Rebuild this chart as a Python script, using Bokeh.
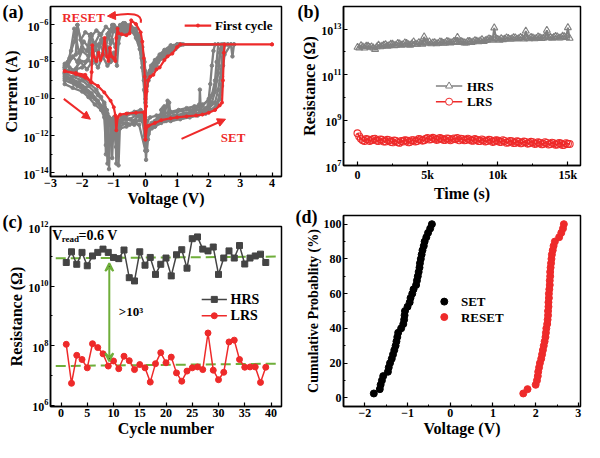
from bokeh.plotting import figure
from bokeh.layouts import row, column
from bokeh.models import FixedTicker, Label, Arrow, NormalHead, VeeHead, Range1d
from bokeh.embed import file_html
from bokeh.resources import INLINE

FONT = "Liberation Serif"
RED = "#ee2a2a"
GRAY = "#808080"
DGRAY = "#444444"
GREEN = "#6fae3a"

# ---------------- (a) I-V curves: voltage (V) and log10 current (A) ----------------
g1_v = [0.0,0.05,0.15,0.3,0.5,0.6,0.65,0.9,1.2,1.5,1.7,1.75,1.9,2.0,2.1,2.2,2.25,2.3,2.8,
        1.0,0.8,0.5,0.3,0.15,0.05,0.0,
        -0.05,-0.1,-0.2,-0.35,-0.5,-0.6,-0.7,-0.8,-0.9,-1.0,-1.1,-1.2,-1.3,-1.4,-1.5,-1.6,-1.7,-1.8,-2.0,-2.2,-2.5,
        -2.5,-2.2,-2.0,-1.8,-1.6,-1.4,-1.25,-1.2,-1.15,-1.0,-0.9,-0.7,-0.5,-0.3,-0.1,0.0]
g1_logi = [-12.5,-11.6,-11.4,-11.2,-11.0,-10.4,-11.0,-10.9,-10.8,-10.7,-10.3,-10.7,-10.5,-10.3,-9.8,-9.0,-8.0,-7.05,-7.05,
           -7.05,-7.2,-7.6,-8.0,-8.6,-9.3,-10.0,
           -8.5,-7.6,-6.9,-6.4,-6.2,-6.0,-6.3,-6.1,-6.6,-6.2,-7.0,-6.5,-7.3,-6.8,-7.6,-7.2,-8.1,-7.9,-8.3,-8.4,-8.6,
           -8.9,-9.1,-9.3,-9.6,-10.0,-10.4,-10.9,-13.5,-11.0,-11.2,-11.4,-11.0,-11.1,-10.9,-11.0,-12.5]

g2_v = [0.0,0.05,0.1,0.2,0.4,0.7,0.75,0.8,1.0,1.3,1.6,1.9,2.1,2.2,2.3,2.35,2.4,2.7,2.75,2.8,
        1.2,0.9,0.6,0.4,0.2,0.1,0.03,0.0,
        -0.05,-0.15,-0.3,-0.45,-0.55,-0.65,-0.8,-0.95,-1.05,-1.15,-1.25,-1.35,-1.5,-1.65,-1.75,-1.85,-2.0,-2.15,-2.2,-2.35,-2.55,
        -2.55,-2.3,-2.0,-1.8,-1.5,-1.3,-1.2,-1.1,-1.05,-1.0,-0.9,-0.85,-0.8,-0.6,-0.4,-0.2,-0.05,0.0]
g2_logi = [-12.0,-12.8,-11.8,-11.5,-11.3,-11.0,-10.2,-11.0,-10.9,-10.8,-10.6,-10.6,-10.2,-9.6,-8.6,-7.5,-7.05,-7.05,-7.7,-7.05,
           -7.05,-7.3,-7.7,-8.0,-8.3,-8.8,-9.5,-9.0,
           -7.9,-7.0,-6.5,-6.2,-6.4,-5.9,-6.0,-6.3,-6.0,-6.4,-7.2,-6.9,-7.1,-7.0,-6.6,-7.4,-7.2,-6.0,-7.6,-7.8,-8.1,
           -8.6,-8.8,-9.0,-9.3,-9.8,-10.2,-10.8,-11.2,-13.2,-11.0,-11.3,-13.6,-11.2,-11.1,-11.2,-10.9,-11.3,-12.0]

g3_v = [0.0,0.08,0.12,0.3,0.5,0.55,0.6,0.9,1.2,1.4,1.7,1.72,1.75,2.0,2.2,2.3,2.4,2.45,2.6,
        1.1,0.9,0.7,0.5,0.35,0.2,0.1,0.0,
        -0.05,-0.12,-0.25,-0.4,-0.5,-0.6,-0.75,-0.85,-0.9,-1.0,-1.1,-1.2,-1.3,-1.45,-1.55,-1.7,-1.9,-2.1,-2.2,-2.4,-2.55,
        -2.55,-2.3,-2.0,-1.8,-1.6,-1.4,-1.3,-1.25,-1.2,-1.15,-1.1,-0.95,-0.92,-0.88,-0.7,-0.5,-0.3,-0.1,0.0]
g3_logi = [-11.8,-12.2,-11.6,-11.5,-11.3,-10.5,-11.2,-11.1,-11.0,-10.9,-10.8,-9.5,-10.6,-10.5,-10.2,-9.5,-8.4,-7.05,-7.05,
           -7.05,-7.15,-7.5,-7.7,-8.2,-8.5,-9.0,-9.6,
           -9.0,-7.8,-6.8,-6.3,-6.0,-6.5,-6.3,-7.0,-8.2,-7.5,-8.0,-7.2,-7.6,-7.0,-8.0,-7.5,-8.0,-7.9,-8.5,-8.3,-8.9,
           -9.2,-9.4,-9.6,-9.9,-10.3,-10.6,-11.0,-12.5,-11.1,-13.8,-11.3,-11.5,-13.5,-11.4,-11.3,-11.4,-11.2,-11.2,-11.8]

g4_v = [0.0,0.1,0.2,0.4,0.6,0.7,0.75,1.0,1.4,1.8,2.0,2.05,2.1,2.15,2.2,2.3,
        1.05,0.85,0.65,0.45,0.25,0.12,0.05,0.0,
        -0.03,-0.1,-0.2,-0.3,-0.45,-0.6,-0.7,-0.85,-1.0,-1.1,-1.25,-1.4,-1.55,-1.7,-1.9,-2.05,-2.15,-2.25,-2.35,-2.45,-2.55,
        -2.55,-2.35,-2.1,-1.9,-1.7,-1.5,-1.35,-1.25,-1.15,-1.05,-0.95,-0.9,-0.85,-0.6,-0.4,-0.2,-0.05,0.02,0.05]
g4_logi = [-12.2,-11.9,-11.3,-11.0,-10.9,-10.1,-10.8,-10.7,-10.6,-10.4,-10.0,-9.2,-8.2,-7.4,-7.05,-7.05,
           -7.05,-7.25,-7.4,-7.8,-8.1,-8.6,-9.0,-8.5,
           -8.0,-7.2,-6.6,-6.2,-6.1,-6.1,-5.9,-6.2,-6.0,-6.3,-6.1,-6.5,-6.3,-6.6,-6.4,-6.8,-6.0,-6.9,-7.4,-8.0,-8.3,
           -8.7,-8.9,-9.1,-9.4,-9.7,-10.1,-10.5,-10.7,-11.0,-11.1,-11.2,-12.0,-11.2,-10.9,-10.8,-10.7,-10.9,-13.3,-12.0]

g5_v = [0.0,0.1,0.25,0.45,0.65,0.85,1.1,1.35,1.6,1.85,2.05,2.25,2.35,2.42,2.45,2.5,
        1.15,0.95,0.75,0.55,0.4,0.25,0.12,0.04,0.0,
        -0.04,-0.1,-0.18,-0.3,-0.42,-0.55,-0.7,-0.8,-0.88,-0.95,-1.05,-1.2,-1.35,-1.5,-1.65,-1.85,-2.05,-2.3,-2.55,
        -2.55,-2.25,-1.95,-1.65,-1.45,-1.3,-1.2,-1.1,-1.0,-0.95,-0.8,-0.6,-0.35,-0.15,0.0]
g5_logi = [-11.5,-11.7,-11.4,-11.3,-11.2,-11.1,-11.0,-10.85,-10.8,-10.7,-10.6,-10.4,-10.0,-9.3,-8.2,-7.05,
           -7.05,-7.3,-7.5,-7.8,-8.0,-8.4,-8.7,-9.3,-11.0,
           -9.5,-8.3,-7.3,-6.7,-6.3,-6.1,-6.2,-6.05,-6.8,-7.6,-7.9,-8.2,-7.7,-8.3,-7.9,-8.4,-8.0,-8.5,-8.6,
           -9.0,-9.2,-9.4,-9.9,-10.3,-10.6,-11.0,-11.4,-11.3,-11.6,-11.5,-11.3,-11.4,-11.0,-11.5]

g6_v = [0.0,0.06,0.15,0.35,0.55,0.8,1.05,1.3,1.55,1.8,2.0,2.15,2.25,2.32,2.38,2.6,
        1.0,0.8,0.6,0.45,0.3,0.18,0.08,0.0,
        -0.04,-0.08,-0.15,-0.25,-0.4,-0.55,-0.65,-0.75,-0.9,-1.0,-1.15,-1.3,-1.45,-1.6,-1.75,-1.95,-2.1,-2.25,-2.4,-2.55,
        -2.55,-2.4,-2.2,-1.95,-1.75,-1.55,-1.4,-1.3,-1.22,-1.15,-1.05,-0.97,-0.9,-0.75,-0.55,-0.35,-0.15,-0.05,0.0]
g6_logi = [-11.9,-11.2,-11.0,-10.9,-10.8,-10.7,-10.6,-10.5,-10.4,-10.3,-10.1,-9.7,-9.0,-8.2,-7.3,-7.05,
           -7.05,-7.1,-7.35,-7.6,-7.9,-8.2,-8.7,-9.2,
           -8.7,-7.7,-7.1,-6.6,-6.35,-6.2,-6.5,-6.15,-6.4,-6.1,-6.6,-6.9,-6.5,-7.0,-7.3,-6.9,-7.5,-6.2,-7.8,-8.2,
           -8.4,-8.5,-8.7,-8.9,-9.2,-9.5,-9.9,-10.3,-10.6,-11.0,-11.2,-11.5,-11.3,-11.0,-10.8,-10.7,-10.6,-10.9,-11.9]

g7_v = [0.0,0.04,0.1,0.2,0.3,0.45,0.5,0.55,0.8,1.1,1.4,1.65,1.9,2.1,2.25,2.35,2.42,2.5,2.7,
        1.1,0.95,0.7,0.5,0.3,0.15,0.06,0.0,
        -0.02,-0.08,-0.2,-0.35,-0.5,-0.62,-0.72,-0.82,-0.95,-1.05,-1.18,-1.28,-1.42,-1.58,-1.72,-1.8,-2.0,-2.15,-2.3,-2.45,-2.55,
        -2.55,-2.35,-2.15,-1.9,-1.7,-1.5,-1.35,-1.28,-1.25,-1.18,-1.1,-1.0,-0.93,-0.9,-0.8,-0.6,-0.4,-0.2,0.0]
g7_logi = [-12.8,-11.9,-11.7,-11.6,-11.5,-11.2,-10.6,-11.2,-11.2,-11.1,-11.0,-10.9,-10.8,-10.6,-10.3,-9.8,-8.8,-7.6,-7.05,
           -7.05,-7.2,-7.45,-7.75,-8.05,-8.45,-9.0,-10.2,
           -9.6,-8.1,-7.0,-6.45,-6.1,-6.3,-5.95,-6.5,-7.2,-6.8,-7.5,-7.0,-7.8,-7.2,-6.5,-7.7,-7.4,-8.0,-7.7,-8.2,-8.3,
           -8.8,-9.0,-9.3,-9.6,-9.9,-10.2,-10.5,-11.0,-13.0,-11.1,-11.4,-11.6,-12.6,-11.5,-11.6,-11.5,-11.3,-11.4,-12.8]

first_v = [0.0,0.05,0.1,0.3,0.5,0.8,1.0,1.3,1.6,1.8,2.0,2.2,2.35,2.42,2.45,2.48,2.5,4.0,
           4.0,1.1,1.0,0.85,0.7,0.6,0.45,0.35,0.25,0.15,0.08,0.04,0.02,0.0,
           -0.02,-0.05,-0.1,-0.15,-0.3,-0.45,-0.5,-0.6,-0.75,-0.85,-0.88,-0.92,-0.95,-1.0,-1.07,-1.12,-1.17,-1.22,-1.29,-1.35,
           -1.42,-1.48,-1.55,-1.63,-1.68,-1.7,-1.72,-1.9,-2.2,-2.55,
           -2.55,-2.2,-1.9,-1.7,-1.5,-1.3,-1.1,-1.0,-0.95,-0.92,-0.88,-0.8,-0.6,-0.3,-0.05,0.0]
first_logi = [-12.2,-11.5,-11.45,-11.3,-11.15,-11.05,-11.0,-10.95,-10.9,-10.85,-10.75,-10.6,-10.35,-10.2,-9.0,-7.5,-7.05,-7.05,
              -7.05,-7.05,-7.2,-7.55,-7.7,-7.9,-8.3,-8.4,-8.7,-8.8,-9.0,-9.6,-10.4,-11.6,
              -8.8,-7.8,-6.9,-6.4,-5.95,-5.75,-6.45,-6.55,-6.5,-6.45,-6.2,-6.7,-7.95,-7.8,-7.7,-7.25,-7.95,-7.7,-6.7,-7.6,
              -7.9,-7.5,-7.95,-7.7,-7.1,-8.55,-9.1,-8.7,-8.6,-8.5,
              -8.5,-8.65,-8.85,-9.1,-9.3,-9.65,-10.1,-10.45,-10.9,-11.7,-11.0,-10.85,-10.8,-10.75,-10.72,-12.2]

# ---------------- (b) retention ----------------
time_s = [0,125,250,375,500,625,750,875,
          1000,1125,1250,1375,1500,1625,1750,1875,
          2000,2125,2250,2375,2500,2625,2750,2875,
          3000,3125,3250,3375,3500,3625,3750,3875,
          4000,4125,4250,4375,4500,4625,4750,4875,
          5000,5125,5250,5375,5500,5625,5750,5875,
          6000,6125,6250,6375,6500,6625,6750,6875,
          7000,7125,7250,7375,7500,7625,7750,7875,
          8000,8125,8250,8375,8500,8625,8750,8875,
          9000,9125,9250,9375,9500,9625,9750,9875,
          10000,10125,10250,10375,10500,10625,10750,10875,
          11000,11125,11250,11375,11500,11625,11750,11875,
          12000,12125,12250,12375,12500,12625,12750,12875,
          13000,13125,13250,13375,13500,13625,13750,13875,
          14000,14125,14250,14375,14500,14625,14750,14875,
          15000,15125]
hrs_e12 = [1.6,1.5,1.9,1.7,1.5,1.8,1.8,1.6,
           1.7,1.5,1.3,1.7,2.0,1.7,1.8,2.0,
           2.1,1.8,1.9,2.2,2.2,1.9,2.0,2.4,
           2.3,2.0,2.1,2.5,2.4,2.1,2.0,2.3,
           2.8,2.2,2.2,2.6,2.4,2.2,4.6,2.5,
           2.5,2.8,2.3,2.5,2.6,2.3,2.4,2.8,
           2.7,2.4,2.5,2.9,2.8,2.5,2.6,2.9,
           3.0,4.4,2.6,2.9,2.7,2.5,2.5,2.9,
           2.9,2.6,2.8,3.2,3.0,2.8,3.1,3.5,
           2.9,3.2,3.4,3.8,3.6,3.3,11.5,3.9,
           3.6,3.3,3.9,3.5,3.7,4.2,4.0,3.6,
           3.8,4.3,4.2,3.7,3.9,4.4,4.1,3.7,
           8.3,4.0,3.8,4.4,4.2,3.8,4.0,4.6,
           4.3,3.9,4.1,4.7,9.0,4.2,4.5,4.0,
           4.4,4.9,4.6,4.1,4.2,5.0,4.8,4.3,
           11.8,4.0]
lrs_e8 = [2.6,1.9,1.5,1.3,1.2,1.45,1.4,1.2,
          1.3,1.45,1.5,1.25,1.2,1.4,1.35,1.15,
          1.15,1.35,1.3,1.1,1.05,1.25,1.2,1.05,
          1.0,1.2,1.15,1.3,1.25,1.05,1.1,1.3,
          1.3,1.15,1.2,1.45,1.4,1.25,1.3,1.5,
          1.6,1.4,1.45,1.65,1.55,1.35,1.4,1.6,
          1.5,1.35,1.35,1.55,1.5,1.3,1.4,1.55,
          1.45,1.6,1.3,1.5,1.45,1.3,1.35,1.5,
          1.4,1.25,1.25,1.45,1.35,1.2,1.2,1.4,
          1.3,1.15,1.2,1.35,1.3,1.1,1.15,1.3,
          1.25,1.1,1.1,1.3,1.2,1.0,1.05,1.2,
          1.15,0.98,1.0,1.15,1.1,0.95,1.0,1.12,
          1.08,0.92,0.95,1.1,1.05,0.9,0.92,1.05,
          1.0,0.86,0.9,1.05,0.98,0.84,0.88,1.0,
          0.95,0.82,0.85,0.98,0.92,0.8,0.82,0.95,
          0.9,0.88]

# ---------------- (c) endurance (log10 resistance) ----------------
cycles = [1,2,3,4,5,6,7,8,9,10,11,12,13,14,15,16,17,18,19,20,21,22,23,24,25,26,27,28,29,30,31,32,33,34,35,36,37,38,39]
hrs_log = [10.79,11.15,10.73,11.13,10.68,11.01,11.13,11.24,11.13,10.96,10.92,11.21,10.28,10.17,11.15,10.70,10.96,10.39,
           10.73,10.94,10.34,11.05,11.22,10.60,11.59,11.65,11.24,11.18,11.31,10.39,10.94,11.18,10.94,11.36,10.74,10.94,
           11.01,11.07,10.79]
lrs_log = [8.04,6.73,7.67,7.53,7.25,8.06,7.93,7.72,7.31,7.48,7.22,7.64,7.49,7.19,7.36,7.25,6.77,7.39,7.76,7.42,7.61,
           7.08,6.80,7.14,7.25,7.28,7.19,8.42,7.17,6.85,7.10,8.12,8.18,7.53,7.27,7.28,7.28,6.76,7.27]
hrs_fit_x = [-1.0, 41.5]
hrs_fit_log = [10.93, 10.99]
lrs_fit_x = [-1.0, 41.5]
lrs_fit_log = [7.31, 7.39]

# ---------------- (d) cumulative probability ----------------
prob = [2.5,5.0,7.5,10.0,12.5,15.0,17.5,20.0,22.5,25.0,27.5,30.0,32.5,35.0,37.5,40.0,42.5,45.0,47.5,50.0,
        52.5,55.0,57.5,60.0,62.5,65.0,67.5,70.0,72.5,75.0,77.5,80.0,82.5,85.0,87.5,90.0,92.5,95.0,97.5,100.0]
set_v = [-1.79,-1.65,-1.63,-1.60,-1.57,-1.46,-1.44,-1.41,-1.37,-1.34,-1.31,-1.28,-1.26,-1.24,-1.22,-1.15,-1.10,-1.08,-1.07,-1.06,
         -1.00,-0.95,-0.93,-0.89,-0.86,-0.80,-0.78,-0.76,-0.74,-0.72,-0.71,-0.69,-0.67,-0.65,-0.62,-0.60,-0.56,-0.52,-0.47,-0.43]
reset_v = [1.71,1.81,2.00,2.03,2.05,2.06,2.08,2.10,2.13,2.15,2.17,2.19,2.21,2.23,2.24,2.25,2.27,2.28,2.29,2.29,
           2.30,2.30,2.31,2.31,2.32,2.33,2.33,2.34,2.34,2.35,2.36,2.37,2.38,2.40,2.42,2.45,2.55,2.60,2.64,2.66]


def p10(vals):
    return [10 ** v for v in vals]


def style(p, xlabel, ylabel):
    p.grid.visible = False
    p.outline_line_color = "black"
    p.outline_line_width = 1.5
    p.background_fill_color = "white"
    p.border_fill_color = "white"
    for ax in [p.xaxis[0], p.yaxis[0]]:
        ax.axis_line_color = "black"
        ax.axis_line_width = 1.5
        ax.major_tick_in = 4
        ax.major_tick_out = 0
        ax.minor_tick_in = 2
        ax.minor_tick_out = 0
        ax.major_tick_line_color = "black"
        ax.minor_tick_line_color = "black"
        ax.major_tick_line_width = 1.2
        ax.minor_tick_line_width = 1
        ax.major_label_text_font = FONT
        ax.major_label_text_font_style = "bold"
        ax.major_label_text_font_size = "12px"
        ax.major_label_text_color = "black"
        ax.major_label_standoff = 2
        ax.axis_label_text_font = FONT
        ax.axis_label_text_font_style = "bold"
        ax.axis_label_text_font_size = "16px"
        ax.axis_label_text_color = "black"
        ax.axis_label_standoff = 0
    p.xaxis[0].axis_label = xlabel
    p.yaxis[0].axis_label = ylabel


def panel_title(p, text, offset, standoff):
    p.title.text = text
    p.title.align = "left"
    p.title.vertical_align = "bottom"
    p.title.offset = offset
    p.title.standoff = standoff
    p.title.text_font = FONT
    p.title.text_font_style = "bold"
    p.title.text_font_size = "18px"
    p.title.text_color = "black"


def txt(p, x, y, text, size="13px", color="black", align="left", baseline="middle"):
    p.add_layout(Label(x=x, y=y, text=text, text_font=FONT,
                       text_font_style="bold", text_font_size=size, text_color=color,
                       text_align=align, text_baseline=baseline))


# ================= panel (a) =================
pa = figure(width=289, height=212, x_range=Range1d(-3, 4.3), y_range=Range1d(10 ** -14.2, 1e-5),
            y_axis_type="log", output_backend="svg", toolbar_location=None,
            min_border_left=46, min_border_right=8, min_border_top=6, min_border_bottom=36)
style(pa, "Voltage (V)", "Current (A)")
panel_title(pa, "(a)", -48, -30)
pa.xaxis[0].ticker = FixedTicker(ticks=[-3, -2, -1, 0, 1, 2, 3, 4],
                                 minor_ticks=[-2.5, -1.5, -0.5, 0.5, 1.5, 2.5, 3.5])
pa.yaxis[0].ticker = FixedTicker(ticks=[1e-14, 1e-12, 1e-10, 1e-8, 1e-6],
                                 minor_ticks=[1e-13, 1e-11, 1e-9, 1e-7, 1e-5])
for gv, gi in [(g1_v, g1_logi), (g2_v, g2_logi), (g3_v, g3_logi), (g4_v, g4_logi), (g5_v, g5_logi),
               (g6_v, g6_logi), (g7_v, g7_logi)]:
    pa.line(gv, p10(gi), line_color=GRAY, line_width=2.3)
    pa.scatter(gv, p10(gi), size=3.5, color=GRAY)
pa.line(first_v, p10(first_logi), line_color=RED, line_width=2.2)
pa.scatter(first_v, p10(first_logi), size=3, color=RED)
# legend
pa.line([1.24, 2.08], [10 ** -6.03, 10 ** -6.03], line_color=RED, line_width=2.2)
pa.scatter([1.66], [10 ** -6.03], size=3, color=RED)
txt(pa, 2.2, 10 ** -6.03, "First cycle")
# arrows and annotations
pa.bezier(x0=[-0.15], y0=[10 ** -5.88], x1=[-1.05], y1=[10 ** -5.5], cx0=[-0.08], cy0=[10 ** -5.4],
          cx1=[-0.45], cy1=[10 ** -5.3], line_color=RED, line_width=2)
pa.add_layout(Arrow(x_start=-0.95, y_start=10 ** -5.49, x_end=-1.2, y_end=10 ** -5.52, line_color=RED,
                    line_width=2, end=NormalHead(size=8, fill_color=RED, line_color=RED)))
pa.add_layout(Arrow(x_start=-2.58, y_start=10 ** -10.0, x_end=-1.74, y_end=10 ** -11.1, line_color=RED,
                    line_width=2, end=NormalHead(size=8, fill_color=RED, line_color=RED)))
pa.add_layout(Arrow(x_start=1.14, y_start=10 ** -12.16, x_end=2.53, y_end=10 ** -11.1, line_color=RED,
                    line_width=2, end=NormalHead(size=8, fill_color=RED, line_color=RED)))
txt(pa, -2.63, 10 ** -5.6, "RESET", color=RED)
txt(pa, 2.38, 10 ** -12.07, "SET", color=RED)

# ================= panel (b) =================
pb = figure(width=295, height=204, x_range=Range1d(-1000, 15900), y_range=Range1d(1e7, 1e14),
            y_axis_type="log", output_backend="svg", toolbar_location=None,
            min_border_left=54, min_border_right=4, min_border_top=6, min_border_bottom=36)
style(pb, "Time (s)", "Resistance (Ω)")
panel_title(pb, "(b)", -46, -30)
pb.xaxis[0].ticker = FixedTicker(ticks=[0, 5000, 10000, 15000], minor_ticks=[2500, 7500, 12500])
pb.xaxis[0].major_label_overrides = {0: "0", 5000: "5k", 10000: "10k", 15000: "15k"}
pb.yaxis[0].ticker = FixedTicker(ticks=[1e7, 1e9, 1e11, 1e13], minor_ticks=[1e8, 1e10, 1e12])
hrs_b = [v * 1e12 for v in hrs_e12]
lrs_b = [v * 1e8 for v in lrs_e8]
pb.line(time_s, hrs_b, line_color=GRAY, line_width=2)
pb.scatter(time_s, hrs_b, marker="triangle", size=7, line_color=GRAY, fill_alpha=0, line_width=1.1)
pb.line(time_s, lrs_b, line_color=RED, line_width=2)
pb.scatter(time_s, lrs_b, marker="circle", size=7, line_color=RED, fill_alpha=0, line_width=1.1)
pb.line([5590, 7470], [10 ** 10.5, 10 ** 10.5], line_color=GRAY, line_width=1.5)
pb.scatter([6530], [10 ** 10.5], marker="triangle", size=7, line_color=GRAY, fill_color="white")
pb.line([5590, 7470], [10 ** 9.81, 10 ** 9.81], line_color=RED, line_width=1.5)
pb.scatter([6530], [10 ** 9.81], marker="circle", size=7, line_color=RED, fill_color="white")
txt(pb, 7800, 10 ** 10.5, "HRS")
txt(pb, 7800, 10 ** 9.81, "LRS")

# ================= panel (c) =================
pc = figure(width=289, height=230, x_range=Range1d(-2, 42), y_range=Range1d(10 ** 5.95, 1e12),
            y_axis_type="log", output_backend="svg", toolbar_location=None,
            min_border_left=46, min_border_right=8, min_border_top=14, min_border_bottom=36)
style(pc, "Cycle number", "Resistance (Ω)")
panel_title(pc, "(c)", -48, -10)
pc.xaxis[0].ticker = FixedTicker(ticks=[0, 5, 10, 15, 20, 25, 30, 35, 40])
pc.yaxis[0].ticker = FixedTicker(ticks=[1e6, 1e8, 1e10, 1e12], minor_ticks=[1e7, 1e9, 1e11])
pc.line(hrs_fit_x, p10(hrs_fit_log), line_color=GREEN, line_width=2, line_dash="10 5")
pc.line(lrs_fit_x, p10(lrs_fit_log), line_color=GREEN, line_width=2, line_dash="10 5")
pc.line(cycles, p10(hrs_log), line_color=DGRAY, line_width=1.5)
pc.scatter(cycles, p10(hrs_log), marker="square", size=6, color=DGRAY)
pc.line(cycles, p10(lrs_log), line_color=RED, line_width=1.5)
pc.scatter(cycles, p10(lrs_log), marker="circle", size=6, color=RED)
pc.add_layout(Arrow(x_start=9.2, y_start=10 ** 7.47, x_end=9.2, y_end=10 ** 10.77, line_color=GREEN,
                    line_width=2, end=VeeHead(size=8, line_color=GREEN, line_width=2),
                    start=VeeHead(size=8, line_color=GREEN, line_width=2)))
pc.line([26.8, 31.6], [10 ** 9.55, 10 ** 9.55], line_color=DGRAY, line_width=1.5)
pc.scatter([29.2], [10 ** 9.55], marker="square", size=6, color=DGRAY)
pc.line([26.8, 31.6], [10 ** 9.0, 10 ** 9.0], line_color=RED, line_width=1.5)
pc.scatter([29.2], [10 ** 9.0], marker="circle", size=6, color=RED)
txt(pc, 32.3, 10 ** 9.55, "HRS", size="14px")
txt(pc, 32.3, 10 ** 9.0, "LRS", size="14px")
txt(pc, -1.69, 10 ** 11.69, "V", size="14px")
txt(pc, 0.13, 10 ** 11.57, "read", size="9px")
txt(pc, 3.35, 10 ** 11.69, "=0.6 V", size="14px")
txt(pc, 11.0, 10 ** 9.14, ">10³", size="13px")

# ================= panel (d) =================
pd_ = figure(width=295, height=238, x_range=Range1d(-2.5, 3.05), y_range=Range1d(-5, 105),
             output_backend="svg", toolbar_location=None,
             min_border_left=54, min_border_right=4, min_border_top=11, min_border_bottom=36)
style(pd_, "Voltage (V)", "Cumulative Probablity (%)")
pd_.yaxis[0].axis_label_text_font_size = "14px"
panel_title(pd_, "(d)", -48, -22)
pd_.xaxis[0].ticker = FixedTicker(ticks=[-2, -1, 0, 1, 2, 3], minor_ticks=[-2.5, -1.5, -0.5, 0.5, 1.5, 2.5])
pd_.yaxis[0].ticker = FixedTicker(ticks=[0, 20, 40, 60, 80, 100], minor_ticks=[10, 30, 50, 70, 90])
pd_.scatter(set_v, prob, size=7, color="black")
pd_.scatter(reset_v, prob, size=7, color=RED)
pd_.scatter([-0.14], [55.4], size=7, color="black")
pd_.scatter([-0.14], [46.5], size=7, color=RED)
txt(pd_, 0.25, 55.4, "SET")
txt(pd_, 0.25, 46.5, "RESET")

layout = row(column(pa, pc), column(pb, pd_))
open("out.html", "w").write(file_html(layout, INLINE))
